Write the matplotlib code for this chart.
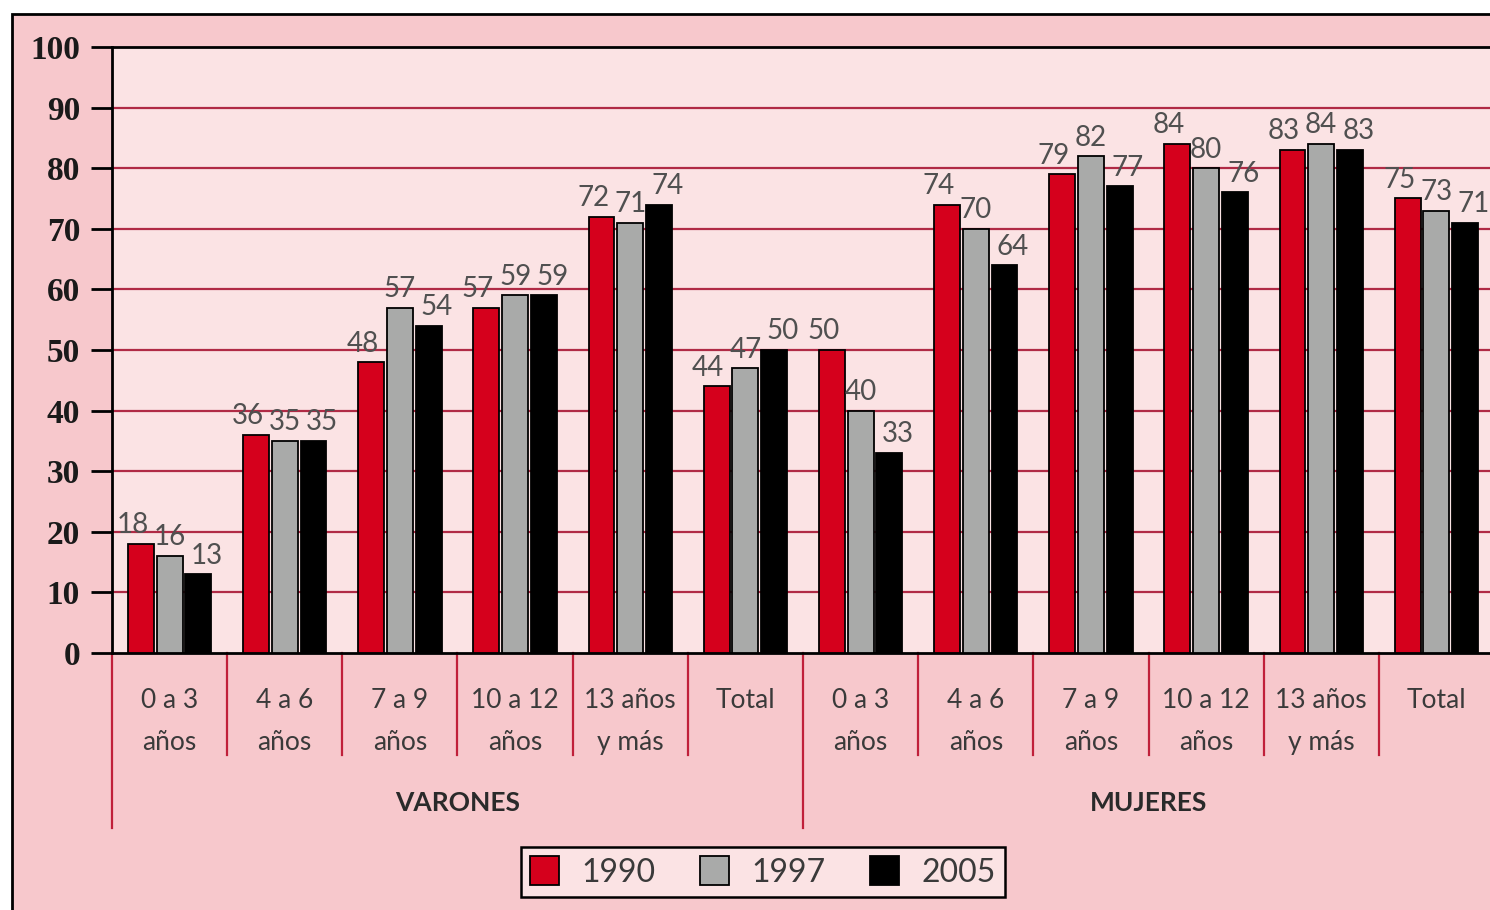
import matplotlib.pyplot as plt
import matplotlib.transforms as mtrans
from matplotlib.patches import Rectangle, Patch
import numpy as np

# --- data
line1 = ["0 a 3", "4 a 6", "7 a 9", "10 a 12", "13 años", "Total",
         "0 a 3", "4 a 6", "7 a 9", "10 a 12", "13 años", "Total"]
line2 = ["años", "años", "años", "años", "y más", "",
         "años", "años", "años", "años", "y más", ""]
groups = ["VARONES", "MUJERES"]
years = ["1990", "1997", "2005"]
v1990 = [18, 36, 48, 57, 72, 44, 50, 74, 79, 84, 83, 75]
v1997 = [16, 35, 57, 59, 71, 47, 40, 70, 82, 80, 84, 73]
v2005 = [13, 35, 54, 59, 74, 50, 33, 64, 77, 76, 83, 71]
yticks = [0, 10, 20, 30, 40, 50, 60, 70, 80, 90, 100]

colors = ["#d5001c", "#a9aaa9", "#000000"]
series = [v1990, v1997, v2005]

W, H = 1490, 910
fig = plt.figure(figsize=(W / 100, H / 100), dpi=100, facecolor="white")

# outer pink frame (runs off the right and bottom of the picture)
fig.patches.append(Rectangle((12 / W, -0.05), 1.1, 1 - 14 / H + 0.05,
                             transform=fig.transFigure, facecolor="#f7c8cc",
                             edgecolor="black", linewidth=2, zorder=-5))

ax = fig.add_axes([112 / W, (H - 653) / H, (1494 - 112) / W, (653 - 47) / H])
ax.set_zorder(2)
ax.set_facecolor("#fbe3e4")

x = np.arange(len(line1))
width = 0.225
offsets = [-0.25, 0, 0.25]
lab_shift = [-6, 0, 6]
for vals, c, off, ls, yr in zip(series, colors, offsets, lab_shift, years):
    ax.bar(x + off, vals, width, color=c, edgecolor="black", linewidth=1.3,
           zorder=3, label=yr)
    for xi, v in zip(x, vals):
        ax.annotate(str(v), (xi + off, v), xytext=(ls, 4),
                    textcoords="offset points", ha="center", va="bottom",
                    fontsize=20, color="#505050", family="Lato", zorder=4)

ax.set_xlim(-0.5, len(line1) - 0.5)
ax.set_ylim(0, 100)
ax.set_yticks(yticks)
ax.set_yticklabels([str(t) for t in yticks], family="Liberation Serif",
                   fontweight="bold", fontsize=24, color="#1a1a1a")
ax.tick_params(axis="y", direction="out", length=15, width=2, pad=8)
ax.set_xticks([])
for t in yticks[1:-1]:
    ax.axhline(t, color="#b02a45", linewidth=1.6, zorder=1)
for s in ["left", "top", "bottom"]:
    ax.spines[s].set_linewidth(2)
ax.spines["right"].set_visible(False)

# category separators and labels below the axis
trans = mtrans.blended_transform_factory(ax.transData, ax.transAxes)
for b in np.arange(-0.5, len(line1), 1.0):
    low = -0.289 if b in (-0.5, 5.5) else -0.168
    ax.plot([b, b], [0, low], transform=trans, color="#c0203a",
            linewidth=1.6, clip_on=False)
for xi, a, b in zip(x, line1, line2):
    ax.text(xi, -0.079, a, transform=trans, ha="center", va="center",
            fontsize=19, color="#3a3a3a", family="Lato")
    if b:
        ax.text(xi, -0.148, b, transform=trans, ha="center", va="center",
                fontsize=19, color="#3a3a3a", family="Lato")
for gx, g in zip([2.5, 8.5], groups):
    ax.text(gx, -0.2475, g, transform=trans, ha="center", va="center",
            fontsize=19, fontweight="bold", color="#2a2a2a", family="Lato")

handles = [Patch(facecolor=c, edgecolor="black", linewidth=1.3) for c in colors]
leg = fig.legend(handles, years, loc="center", bbox_to_anchor=(763 / W, (H - 872) / H),
                 ncol=3, frameon=True, fancybox=False,
                 prop={"family": "Lato", "size": 23}, handlelength=0.9,
                 handleheight=1.0, handletextpad=0.7, columnspacing=1.4,
                 borderpad=0.3)
leg.get_frame().set_facecolor("#fbe3e4")
leg.get_frame().set_edgecolor("black")
leg.get_frame().set_linewidth(1.8)
leg.get_frame().set_alpha(1)
for t in leg.get_texts():
    t.set_color("#3a3a3a")

fig.savefig("out.png", dpi=100, facecolor="white")
